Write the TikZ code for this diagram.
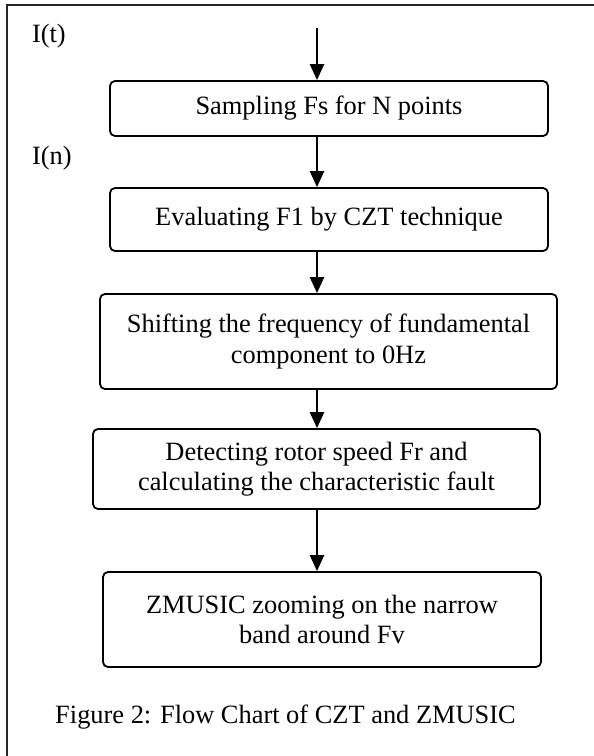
\documentclass[tikz,border=0pt]{standalone}
\usepackage{fontspec}
\setmainfont{Liberation Serif}
\usetikzlibrary{arrows.meta}

\begin{document}
\begin{tikzpicture}[x=0.5pt,y=-0.5pt,
    every node/.style={font=\fontsize{13.2}{15.2}\selectfont},
    box/.style={draw,rounded corners=2.5pt,line width=0.9pt,align=center,inner sep=0pt},
    flow/.style={line width=1.2pt,-{Triangle[length=8pt,width=7pt]}}]
  \useasboundingbox (0,0) rectangle (594,756);
  \draw[line width=0.8pt,black!85] (594,5) -- (7,5) -- (7,756);
  \coordinate (axis) at (317,0);
  \coordinate (start) at (317,28);
  \node[anchor=west] (it) at (25,36) {I(t)};
  \node[anchor=west] (in) at (25,158) {I(n)};
  \node[box,minimum width=219pt,minimum height=27.5pt] (sampling) at (329,108.5)
    {Sampling Fs for N points};
  \node[box,minimum width=219pt,minimum height=31.5pt] (czt) at (329,219.5)
    {Evaluating F1 by CZT technique};
  \node[box,minimum width=228.5pt,minimum height=47.5pt] (shift) at (328.5,341.5)
    {Shifting the frequency of fundamental\\component to 0Hz};
  \node[box,minimum width=223.5pt,minimum height=40pt] (detect) at (316.5,469)
    {Detecting rotor speed Fr and\\calculating the characteristic fault};
  \node[box,minimum width=219pt,minimum height=47.5pt] (zmusic) at (322,619.5)
    {ZMUSIC zooming on the narrow\\band around Fv};
  \node (caption) at (285.5,717) {Figure 2: Flow Chart of CZT and ZMUSIC};
  \draw[flow] (start) -- (sampling.north -| axis);
  \draw[flow] (sampling.south -| axis) -- (czt.north -| axis);
  \draw[flow] (czt.south -| axis) -- (shift.north -| axis);
  \draw[flow] (shift.south -| axis) -- (detect.north -| axis);
  \draw[flow] (detect.south -| axis) -- (zmusic.north -| axis);
\end{tikzpicture}
\end{document}
